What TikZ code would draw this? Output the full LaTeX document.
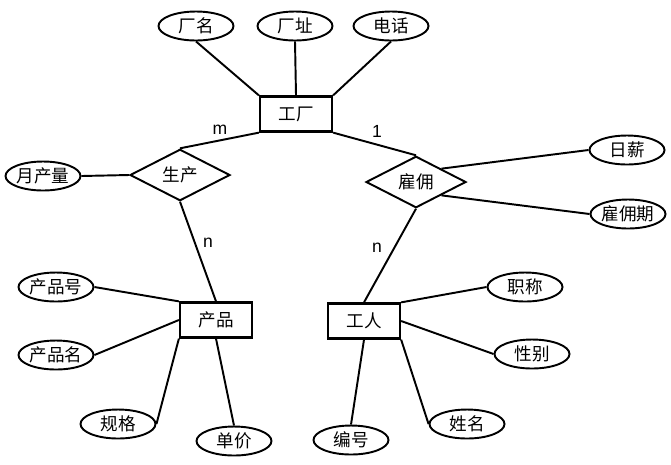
\documentclass[tikz,border=0pt]{standalone}
\usepackage{fontspec}
\setmainfont{Liberation Sans}
\newfontfamily\cjk{Noto Sans CJK SC}
\usetikzlibrary{shapes.geometric}

\begin{document}
\begin{tikzpicture}[
    x=0.02cm, y=-0.02cm,
    font=\cjk\fontsize{10}{12}\selectfont,
    linea/.style={line width=1.1pt},
    entita/.style={draw,line width=1.3pt,minimum width=1.44cm,minimum height=0.7cm,inner sep=0pt},
    attr/.style={draw,line width=1.1pt,ellipse,minimum width=1.5cm,minimum height=0.58cm,inner sep=0pt},
    rel/.style={draw,line width=1.1pt,diamond,minimum width=2cm,minimum height=0.87cm,inner sep=0pt},
    card/.style={font=\rmfamily\fontsize{10}{12}\selectfont}]

  \useasboundingbox (0,0) rectangle (671,464);

  % ---- entita' e relazioni ---------------------------------------------------
  \node[entita] (factory) at (296,114) {工厂};
  \node[entita] (product) at (216,320) {产品};
  \node[entita] (worker)  at (364,321) {工人};
  \node[rel] (produce) at (180,175) {生产};
  \node[rel] (employ)  at (416,182) {雇佣};

  % ---- attributi ---------------------------------------------------------------
  \node[attr] (fname)  at (196,26)  {厂名};
  \node[attr] (faddr)  at (295,26)  {厂址};
  \node[attr] (fphone) at (391,26)  {电话};
  \node[attr] (output) at (43,176)  {月产量};
  \node[attr] (wage)   at (627,150) {日薪};
  \node[attr] (term)   at (628,214) {雇佣期};
  \node[attr] (pno)    at (56,287)  {产品号};
  \node[attr] (pname)  at (56,355)  {产品名};
  \node[attr] (spec)   at (118,424) {规格};
  \node[attr] (price)  at (234,441) {单价};
  \node[attr] (title)  at (525,287) {职称};
  \node[attr] (sex)    at (532,354) {性别};
  \node[attr] (wname)  at (467,424) {姓名};
  \node[attr] (wno)    at (351,440) {编号};

  % ---- collegamenti ------------------------------------------------------------
  \draw[linea] (fname.south)  -- (factory.north west);
  \draw[linea] (faddr.south)  -- (factory.north);
  \draw[linea] (fphone.south) -- (factory.north east);
  \draw[linea] (produce.north) -- (factory.south west);
  \draw[linea] (employ.north)  -- (factory.south east);
  \draw[linea] (output.east)   -- (produce.west);
  \draw[linea] (produce.south) -- (product.north);
  \draw[linea] (employ.south)  -- (worker.north);
  \draw[linea] (employ.north east) -- (wage.west);
  \draw[linea] (employ.south east) -- (term.west);
  \draw[linea] (pno.east)    -- (product.north west);
  \draw[linea] (pname.east)  -- (product.west);
  \draw[linea] (spec.east)   -- (product.south west);
  \draw[linea] (price.north) -- (product.south);
  \draw[linea] (title.west)  -- (worker.north east);
  \draw[linea] (sex.west)    -- (worker.east);
  \draw[linea] (wname.west)  -- (worker.south east);
  \draw[linea] (wno.north)   -- (worker.south);

  % ---- cardinalita' ------------------------------------------------------------
  \node[card] (cm)  at (220,130) {m};
  \node[card] (c1)  at (377,131) {1};
  \node[card] (cn1) at (208,243) {n};
  \node[card] (cn2) at (377,248) {n};

\end{tikzpicture}
\end{document}
